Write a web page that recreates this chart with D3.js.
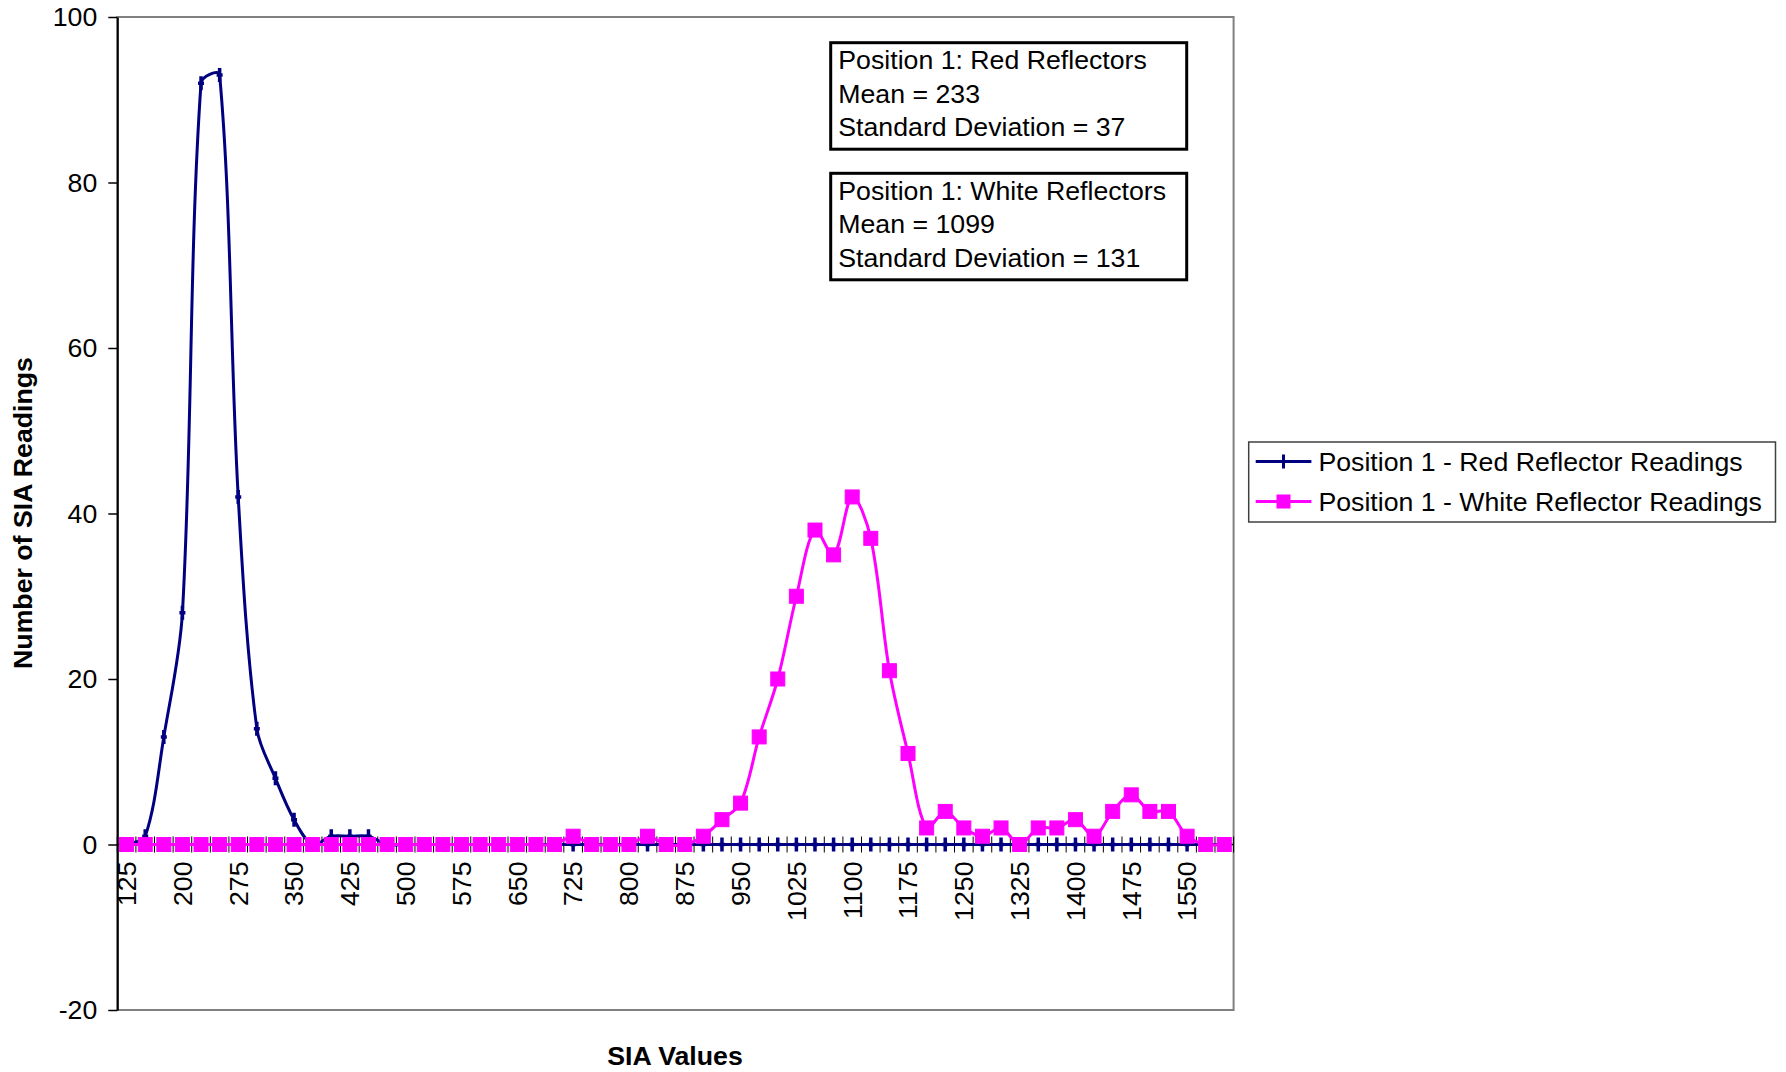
<!DOCTYPE html>
<html>
<head>
<meta charset="utf-8">
<script src="https://cdn.jsdelivr.net/npm/d3@7"></script>
<style>
  html, body { margin: 0; padding: 0; background: #ffffff; }
  svg { display: block; font-family: "Liberation Sans", Arial, sans-serif; }
</style>
</head>
<body>
<svg id="chart" width="1786" height="1072"></svg>
<script>
// SIA value bins (category axis)
const categories = [125,150,175,200,225,250,275,300,325,350,375,400,425,450,475,500,525,550,575,600,
  625,650,675,700,725,750,775,800,825,850,875,900,925,950,975,1000,1025,1050,1075,1100,
  1125,1150,1175,1200,1225,1250,1275,1300,1325,1350,1375,1400,1425,1450,1475,1500,1525,1550,1575,1600];

// Number of readings per bin
const redReadings = [0,1,13,28,92,93,42,14,8,3,0,1,1,1,0,0,0,0,0,0,
  0,0,0,0,0,0,0,0,0,0,0,0,0,0,0,0,0,0,0,0,
  0,0,0,0,0,0,0,0,0,0,0,0,0,0,0,0,0,0,0,0];
const whiteReadings = [0,0,0,0,0,0,0,0,0,0,0,0,0,0,0,0,0,0,0,0,
  0,0,0,0,1,0,0,0,1,0,0,1,3,5,13,20,30,38,35,42,
  37,21,11,2,4,2,1,2,0,2,2,3,1,4,6,4,4,1,0,0];

const seriesNames = ["Position 1 - Red Reflector Readings", "Position 1 - White Reflector Readings"];
const yTicks = [-20, 0, 20, 40, 60, 80, 100];
const xTickLabels = categories.filter((d, i) => i % 3 === 0);

const statBoxes = [
  ["Position 1: Red Reflectors", "Mean = 233", "Standard Deviation = 37"],
  ["Position 1: White Reflectors", "Mean = 1099", "Standard Deviation = 131"]
];

const NAVY = "#000080", MAGENTA = "#FF00FF";
const FONT = 26.7;

// Smoothed line: cubic Bezier segments whose handles follow the neighbour
// chord, scaled by the relative segment lengths (keeps short segments tight).
function SmoothCurve(context) { this._context = context; }
SmoothCurve.prototype = {
  areaStart() { this._line = 0; },
  areaEnd() { this._line = NaN; },
  lineStart() { this._pts = []; },
  point(x, y) { this._pts.push([+x, +y]); },
  lineEnd() {
    const p = this._pts, ctx = this._context, n = p.length;
    if (!n) return;
    const dist = (a, b) => Math.hypot(b[0] - a[0], b[1] - a[1]);
    ctx.moveTo(p[0][0], p[0][1]);
    for (let i = 0; i < n - 1; i++) {
      const P0 = p[i], P1 = p[i + 1];
      const prev = p[i - 1] || P0, next = p[i + 2] || P1;
      const d0 = dist(prev, P0), d1 = dist(P0, P1), d2 = dist(P1, next);
      const s0 = (d0 + d1) > 0 ? d1 / (d0 + d1) / 3 : 0;
      const s1 = (d1 + d2) > 0 ? d1 / (d1 + d2) / 3 : 0;
      const c1 = [P0[0] + (P1[0] - prev[0]) * s0, P0[1] + (P1[1] - prev[1]) * s0];
      const c2 = [P1[0] - (next[0] - P0[0]) * s1, P1[1] - (next[1] - P0[1]) * s1];
      ctx.bezierCurveTo(c1[0], c1[1], c2[0], c2[1], P1[0], P1[1]);
    }
  }
};
const smoothCurve = context => new SmoothCurve(context);

const svg = d3.select("#chart");
const plot = { left: 117.3, right: 1233.6, top: 17, bottom: 1010 };

const x = d3.scaleBand().domain(categories).range([plot.left, plot.right]).padding(0);
const cx = d => x(d) + x.bandwidth() / 2;
const y = d3.scaleLinear().domain([-20, 100]).range([plot.bottom, plot.top]);

// plot area frame
svg.append("rect")
  .attr("x", plot.left).attr("y", plot.top)
  .attr("width", plot.right - plot.left).attr("height", plot.bottom - plot.top)
  .attr("fill", "none").attr("stroke", "#808080").attr("stroke-width", 2);

// y axis
const yAxis = d3.axisLeft(y).tickValues(yTicks).tickFormat(d => String(d))
  .tickSize(9).tickSizeOuter(0).tickPadding(11);
const gy = svg.append("g").attr("transform", `translate(${plot.left},0)`).call(yAxis);
gy.select(".domain").attr("stroke", "#000").attr("stroke-width", 2);
gy.selectAll(".tick line").attr("stroke", "#000").attr("stroke-width", 1.5);
gy.selectAll(".tick text").attr("font-size", FONT).attr("fill", "#000")
  .attr("font-family", "Liberation Sans, Arial, sans-serif");

// x axis at zero, ticks between categories
const y0 = y(0);
const gx = svg.append("g");
gx.append("line").attr("x1", plot.left).attr("x2", plot.right)
  .attr("y1", y0).attr("y2", y0).attr("stroke", "#000").attr("stroke-width", 1.5);
const boundaries = categories.map(c => x(c)).concat([plot.right]);
gx.selectAll("line.xt").data(boundaries).join("line").attr("class", "xt")
  .attr("x1", d => d).attr("x2", d => d)
  .attr("y1", y0 - 8).attr("y2", y0 + 8)
  .attr("stroke", "#000").attr("stroke-width", 1);
gx.selectAll("text").data(xTickLabels).join("text")
  .attr("transform", d => `translate(${cx(d)},${y0 + 17}) rotate(-90)`)
  .attr("text-anchor", "end").attr("dy", "0.35em")
  .attr("font-size", FONT).attr("fill", "#000")
  .text(d => d);

// series lines
const line = d3.line().x(d => cx(d.c)).y(d => y(d.v)).curve(smoothCurve);
const redData = categories.map((c, i) => ({ c, v: redReadings[i] }));
const whiteData = categories.map((c, i) => ({ c, v: whiteReadings[i] }));

const plusPath = (px, py) => `M${px - 3},${py}H${px + 3}M${px},${py - 7}V${py + 7}`;

const gRed = svg.append("g");
gRed.append("path").datum(redData).attr("d", line)
  .attr("fill", "none").attr("stroke", NAVY).attr("stroke-width", 3);
gRed.selectAll("path.mk").data(redData).join("path").attr("class", "mk")
  .attr("d", d => plusPath(cx(d.c), y(d.v)))
  .attr("stroke", NAVY).attr("stroke-width", 3.5).attr("fill", "none");

const gWhite = svg.append("g");
gWhite.append("path").datum(whiteData).attr("d", line)
  .attr("fill", "none").attr("stroke", MAGENTA).attr("stroke-width", 3);
gWhite.selectAll("rect").data(whiteData).join("rect")
  .attr("x", d => cx(d.c) - 7).attr("y", d => y(d.v) - 7)
  .attr("width", 14).attr("height", 14)
  .attr("fill", MAGENTA).attr("stroke", MAGENTA).attr("stroke-width", 1);

// statistics boxes
const box = { x: 830.7, w: 356, h: 106.5, tops: [42.7, 173.3] };
statBoxes.forEach((lines, bi) => {
  const g = svg.append("g");
  g.append("rect").attr("x", box.x).attr("y", box.tops[bi])
    .attr("width", box.w).attr("height", box.h)
    .attr("fill", "#fff").attr("stroke", "#000").attr("stroke-width", 3);
  g.selectAll("text").data(lines).join("text")
    .attr("x", 838.3).attr("y", (d, i) => box.tops[bi] + 26.6 + i * 33.4)
    .attr("font-size", FONT).attr("fill", "#000").text(d => d);
});

// legend
const lg = svg.append("g");
lg.append("rect").attr("x", 1248.7).attr("y", 442).attr("width", 526.8).attr("height", 80)
  .attr("fill", "#fff").attr("stroke", "#404040").attr("stroke-width", 1.5);
const legendRows = [
  { name: seriesNames[0], color: NAVY, y: 461.5, marker: "plus" },
  { name: seriesNames[1], color: MAGENTA, y: 501.5, marker: "square" }
];
legendRows.forEach(r => {
  lg.append("line").attr("x1", 1255.7).attr("x2", 1311.4).attr("y1", r.y).attr("y2", r.y)
    .attr("stroke", r.color).attr("stroke-width", 3);
  const mx = 1283.5;
  if (r.marker === "plus") {
    lg.append("path").attr("d", plusPath(mx, r.y))
      .attr("stroke", r.color).attr("stroke-width", 3);
  } else {
    lg.append("rect").attr("x", mx - 7).attr("y", r.y - 7).attr("width", 14).attr("height", 14)
      .attr("fill", r.color);
  }
  lg.append("text").attr("x", 1318.4).attr("y", r.y).attr("dy", "0.35em")
    .attr("font-size", FONT).attr("fill", "#000").text(r.name);
});

// axis titles
svg.append("text").attr("transform", "translate(23,513) rotate(-90)")
  .attr("text-anchor", "middle").attr("dy", "0.35em")
  .attr("font-size", FONT).attr("font-weight", "bold").text("Number of SIA Readings");
svg.append("text").attr("x", 675).attr("y", 1056).attr("dy", "0.35em")
  .attr("text-anchor", "middle")
  .attr("font-size", FONT).attr("font-weight", "bold").text("SIA Values");
</script>
</body>
</html>
